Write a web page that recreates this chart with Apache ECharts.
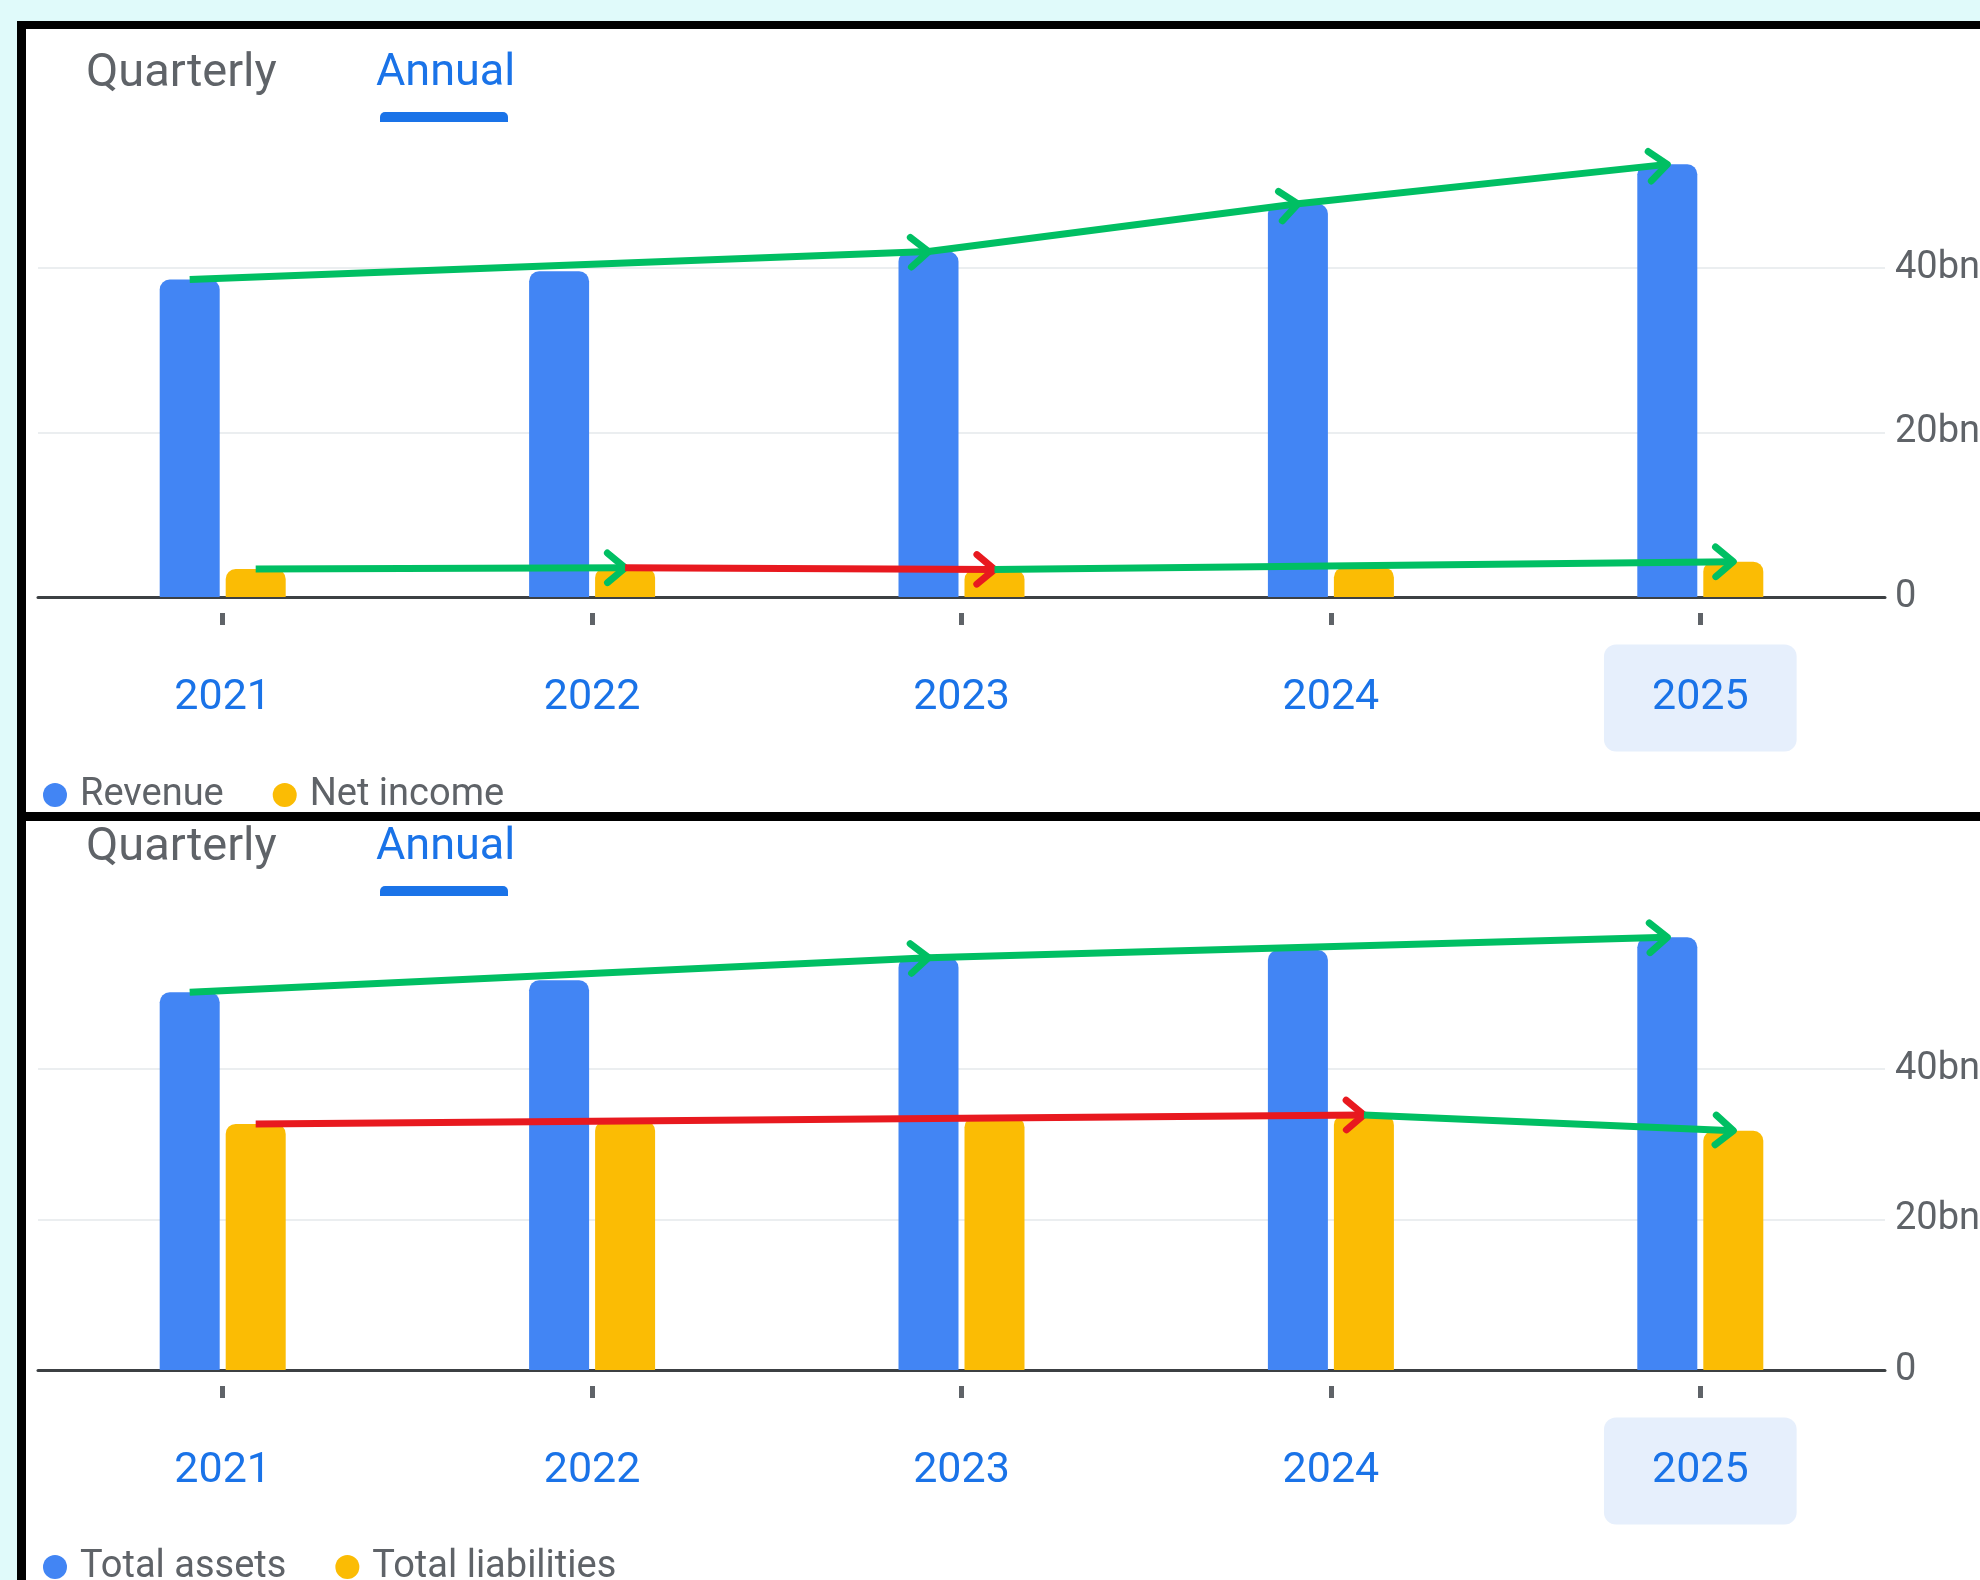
<!DOCTYPE html>
<html>
<head>
<meta charset="utf-8">
<title>Revenue and balance sheet, annual</title>
<script src="https://cdn.jsdelivr.net/npm/echarts@6.0.0/dist/echarts.min.js"></script>
<style>
  html, body { margin: 0; padding: 0; background: #e0fafa; }
  #chart { width: 1980px; height: 1580px; }
</style>
</head>
<body>
<div id="chart"></div>
<script>
// categories
var years = ['2021', '2022', '2023', '2024', '2025'];
// upper panel (bn)
var revenue = [38.6, 39.6, 42.0, 47.8, 52.6];
var netIncome = [3.4, 3.55, 3.35, 3.6, 4.3];
// lower panel (bn)
var totalAssets = [50.2, 51.8, 54.8, 55.8, 57.5];
var totalLiabilities = [32.7, 33.1, 33.6, 33.9, 31.8];
// value axis ticks
var yTicks = [0, 20, 40];
var yMax = 60;
// the hand drawn arrows on top of the bars: [from year index, to year index]
var revenueArrows = [[0, 2], [2, 3], [3, 4]];
var incomeArrows = [[0, 1], [1, 2], [2, 4]];
var assetsArrows = [[0, 2], [2, 4]];
var liabilitiesArrows = [[0, 3], [3, 4]];

var FONT = 'Roboto';
var BLUE = '#4285f4';
var YELLOW = '#fbbc04';
var LINK = '#1a73e8';
var GREY = '#5f6368';
var GREEN = '#00bf63';
var RED = '#e8191f';
var BAR_W = 60;
var BAR_GAP = 6;

var myChart = echarts.init(document.getElementById('chart'));

function yLabel(v) {
  return v === 0 ? '0' : v + 'bn';
}

// arrow from bar top to bar top, side -1 = first bar, +1 = second bar
function arrowSeries(values, spans, side, lowerIsBetter, gridIdx) {
  var data = spans.map(function (s) {
    var up = values[s[1]] >= values[s[0]];
    var good = lowerIsBetter ? !up : up;
    return {
      value: [s[0], values[s[0]], s[1], values[s[1]]],
      itemStyle: { color: good ? GREEN : RED }
    };
  });
  return {
    type: 'custom',
    name: 'arrows' + gridIdx + side,
    xAxisIndex: gridIdx * 2,
    yAxisIndex: gridIdx,
    z: 10,
    silent: true,
    encode: { x: [0, 2], y: [1, 3] },
    renderItem: function (params, api) {
      var off = side * (BAR_W + BAR_GAP) / 2;
      var a = api.coord([api.value(0), api.value(1)]);
      var b = api.coord([api.value(2), api.value(3)]);
      a[0] += off;
      b[0] += off;
      var dx = b[0] - a[0], dy = b[1] - a[1];
      var len = Math.sqrt(dx * dx + dy * dy);
      var ux = -dx / len, uy = -dy / len;
      var ang = 40 * Math.PI / 180, head = 23;
      var w1 = [b[0] + head * (ux * Math.cos(ang) - uy * Math.sin(ang)), b[1] + head * (ux * Math.sin(ang) + uy * Math.cos(ang))];
      var w2 = [b[0] + head * (ux * Math.cos(-ang) - uy * Math.sin(-ang)), b[1] + head * (ux * Math.sin(-ang) + uy * Math.cos(-ang))];
      var color = api.visual('color');
      return {
        type: 'group',
        children: [
          { type: 'line', shape: { x1: a[0], y1: a[1], x2: b[0], y2: b[1] }, style: { stroke: color, lineWidth: 7 } },
          { type: 'polyline', shape: { points: [w1, b, w2] }, style: { stroke: color, fill: null, lineWidth: 7, lineCap: 'round', lineJoin: 'round' } }
        ]
      };
    },
    data: data
  };
}

function xAxes(gridIdx) {
  return [
    {
      gridIndex: gridIdx,
      type: 'category',
      data: years,
      axisLine: { lineStyle: { color: '#3c4043', width: 3 } },
      axisTick: { show: false },
      axisLabel: { show: false },
      splitLine: { show: false }
    },
    {
      gridIndex: gridIdx,
      type: 'category',
      data: years,
      position: 'bottom',
      offset: 16,
      axisLine: { show: false, onZero: false },
      axisTick: { show: true, alignWithLabel: true, length: 12, lineStyle: { color: GREY, width: 5 } },
      axisLabel: {
        margin: 63,
        formatter: function (v, i) {
          return i === years.length - 1 ? '{hl|' + v + '}' : '{n|' + v + '}';
        },
        rich: {
          n: { fontFamily: FONT, fontSize: 43, lineHeight: 44, color: LINK, padding: [32, 48] },
          hl: { fontFamily: FONT, fontSize: 43, lineHeight: 44, color: LINK, padding: [32, 48], backgroundColor: '#e6effc', borderRadius: 12 }
        }
      }
    }
  ];
}

function yAxis(gridIdx) {
  return {
    gridIndex: gridIdx,
    type: 'value',
    position: 'right',
    min: yTicks[0],
    max: yMax,
    interval: yTicks[1] - yTicks[0],
    axisLine: { show: false },
    axisTick: { show: false },
    splitLine: { show: true, showMaxLine: false, lineStyle: { color: '#ebeef0', width: 2 } },
    axisLabel: { margin: 10, showMaxLabel: false, formatter: yLabel, fontFamily: FONT, fontSize: 38, color: GREY }
  };
}

function bar(name, values, color, gridIdx) {
  return {
    name: name,
    type: 'bar',
    xAxisIndex: gridIdx * 2,
    yAxisIndex: gridIdx,
    barWidth: BAR_W,
    barGap: (BAR_GAP / BAR_W * 100) + '%',
    itemStyle: { color: color, borderRadius: [10, 10, 0, 0] },
    data: values
  };
}

function tabs(dy) {
  return [
    { type: 'text', x: 86, y: 74 + dy, style: { text: 'Quarterly', font: '47px ' + FONT, fill: GREY, textVerticalAlign: 'middle' } },
    { type: 'text', x: 376, y: 74 + dy, style: { text: 'Annual', font: '45px ' + FONT, fill: LINK, textVerticalAlign: 'middle' } },
    { type: 'rect', shape: { x: 380, y: 112 + dy, width: 128, height: 10, r: [5, 5, 0, 0] }, style: { fill: LINK } }
  ];
}

var legendBase = {
  left: 38,
  icon: 'circle',
  itemWidth: 24,
  itemHeight: 24,
  itemGap: 49,
  selectedMode: false,
  textStyle: { fontFamily: FONT, fontSize: 38, color: GREY, padding: [0, 0, 0, 8] }
};

myChart.setOption({
  backgroundColor: '#e0fafa',
  animation: false,
  graphic: [
    { type: 'rect', z: -100, shape: { x: 17, y: 21, width: 1970, height: 1570 }, style: { fill: '#000' } },
    { type: 'rect', z: -99, shape: { x: 26, y: 29, width: 1960, height: 783 }, style: { fill: '#fff' } },
    { type: 'rect', z: -99, shape: { x: 26, y: 821, width: 1960, height: 770 }, style: { fill: '#fff' } }
  ].concat(tabs(0), tabs(774)),
  legend: [
    Object.assign({}, legendBase, { top: 771, data: ['Revenue', 'Net income'] }),
    Object.assign({}, legendBase, { top: 1543, data: ['Total assets', 'Total liabilities'] })
  ],
  grid: [
    { left: 38, right: 95, top: 103.5, height: 493.5, outerBoundsMode: 'none' },
    { left: 38, right: 95, top: 918.5, height: 451.5, outerBoundsMode: 'none' }
  ],
  xAxis: xAxes(0).concat(xAxes(1)),
  yAxis: [yAxis(0), yAxis(1)],
  series: [
    bar('Revenue', revenue, BLUE, 0),
    bar('Net income', netIncome, YELLOW, 0),
    bar('Total assets', totalAssets, BLUE, 1),
    bar('Total liabilities', totalLiabilities, YELLOW, 1),
    arrowSeries(revenue, revenueArrows, -1, false, 0),
    arrowSeries(netIncome, incomeArrows, 1, false, 0),
    arrowSeries(totalAssets, assetsArrows, -1, false, 1),
    arrowSeries(totalLiabilities, liabilitiesArrows, 1, true, 1)
  ]
});
</script>
</body>
</html>
